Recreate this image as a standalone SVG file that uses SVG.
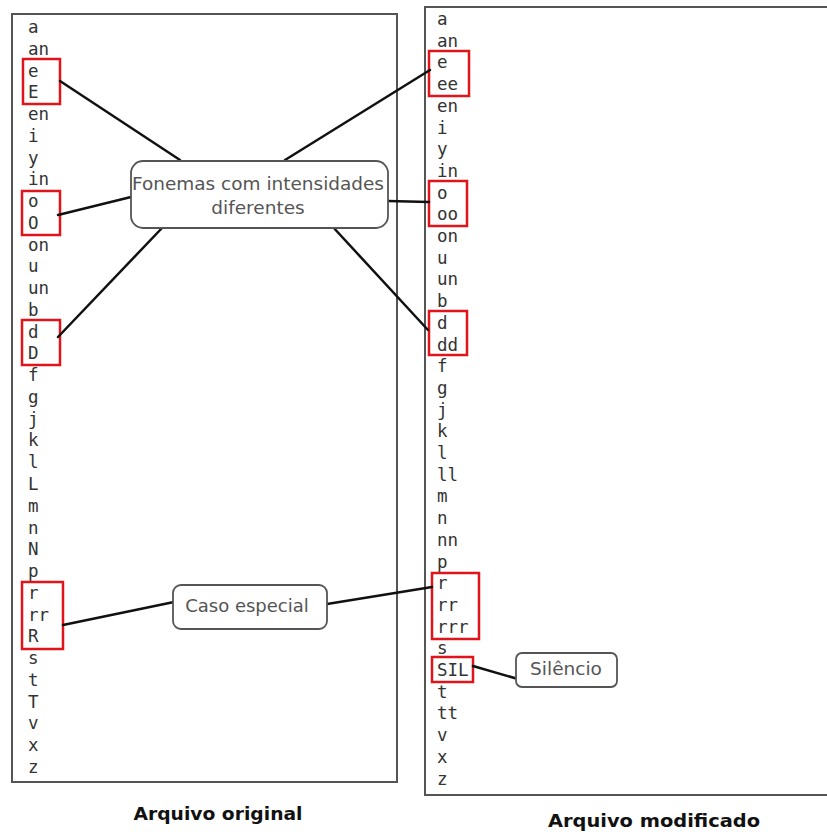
<svg xmlns="http://www.w3.org/2000/svg" width="827" height="832" viewBox="0 0 827 832">
<style>
.frame{fill:#fff;stroke:#555;stroke-width:2}
.mono{font-family:"DejaVu Sans Mono","Liberation Mono",monospace;font-size:17.5px;fill:#333}
.hl{fill:none;stroke:#e0141a;stroke-width:2.5}
.node{fill:#fff;stroke:#555;stroke-width:1.8}
.lbl{font-family:"DejaVu Sans","Liberation Sans",sans-serif;fill:#555;text-anchor:middle}
.cap{font-family:"DejaVu Sans","Liberation Sans",sans-serif;font-weight:bold;font-size:18.5px;fill:#111;text-anchor:middle}
.con line{stroke:#111;stroke-width:2.5;stroke-linecap:round}
</style>
<rect width="827" height="832" fill="#fff"/>
<g id="arquivo-original">
<rect class="frame" x="12" y="14" width="385" height="768"/>
<text class="mono" x="28" y="33">a</text>
<text class="mono" x="28" y="54.8">an</text>
<text class="mono" x="28" y="76.5">e</text>
<text class="mono" x="28" y="98.3">E</text>
<text class="mono" x="28" y="120">en</text>
<text class="mono" x="28" y="141.8">i</text>
<text class="mono" x="28" y="163.6">y</text>
<text class="mono" x="28" y="185.3">in</text>
<text class="mono" x="28" y="207.1">o</text>
<text class="mono" x="28" y="228.8">O</text>
<text class="mono" x="28" y="250.6">on</text>
<text class="mono" x="28" y="272.4">u</text>
<text class="mono" x="28" y="294.1">un</text>
<text class="mono" x="28" y="315.9">b</text>
<text class="mono" x="28" y="337.6">d</text>
<text class="mono" x="28" y="359.4">D</text>
<text class="mono" x="28" y="381.2">f</text>
<text class="mono" x="28" y="402.9">g</text>
<text class="mono" x="28" y="424.7">j</text>
<text class="mono" x="28" y="446.4">k</text>
<text class="mono" x="28" y="468.2">l</text>
<text class="mono" x="28" y="490">L</text>
<text class="mono" x="28" y="511.7">m</text>
<text class="mono" x="28" y="533.5">n</text>
<text class="mono" x="28" y="555.2">N</text>
<text class="mono" x="28" y="577">p</text>
<text class="mono" x="28" y="598.8">r</text>
<text class="mono" x="28" y="620.5">rr</text>
<text class="mono" x="28" y="642.3">R</text>
<text class="mono" x="28" y="664">s</text>
<text class="mono" x="28" y="685.8">t</text>
<text class="mono" x="28" y="707.6">T</text>
<text class="mono" x="28" y="729.3">v</text>
<text class="mono" x="28" y="751.1">x</text>
<text class="mono" x="28" y="772.8">z</text>
<rect class="hl" x="23" y="59" width="37" height="45"/>
<rect class="hl" x="22" y="191" width="38" height="44"/>
<rect class="hl" x="22" y="320" width="38" height="45"/>
<rect class="hl" x="22" y="582" width="41" height="67"/>
</g>
<g id="arquivo-modificado">
<rect class="frame" x="425" y="7" width="410" height="788"/>
<text class="mono" x="437" y="25">a</text>
<text class="mono" x="437" y="46.7">an</text>
<text class="mono" x="437" y="68.4">e</text>
<text class="mono" x="437" y="90.1">ee</text>
<text class="mono" x="437" y="111.8">en</text>
<text class="mono" x="437" y="133.5">i</text>
<text class="mono" x="437" y="155.2">y</text>
<text class="mono" x="437" y="176.9">in</text>
<text class="mono" x="437" y="198.6">o</text>
<text class="mono" x="437" y="220.3">oo</text>
<text class="mono" x="437" y="242">on</text>
<text class="mono" x="437" y="263.7">u</text>
<text class="mono" x="437" y="285.4">un</text>
<text class="mono" x="437" y="307.1">b</text>
<text class="mono" x="437" y="328.8">d</text>
<text class="mono" x="437" y="350.5">dd</text>
<text class="mono" x="437" y="372.2">f</text>
<text class="mono" x="437" y="393.9">g</text>
<text class="mono" x="437" y="415.6">j</text>
<text class="mono" x="437" y="437.3">k</text>
<text class="mono" x="437" y="459">l</text>
<text class="mono" x="437" y="480.7">ll</text>
<text class="mono" x="437" y="502.4">m</text>
<text class="mono" x="437" y="524.1">n</text>
<text class="mono" x="437" y="545.8">nn</text>
<text class="mono" x="437" y="567.5">p</text>
<text class="mono" x="437" y="589.2">r</text>
<text class="mono" x="437" y="610.9">rr</text>
<text class="mono" x="437" y="632.6">rrr</text>
<text class="mono" x="437" y="654.3">s</text>
<text class="mono" x="437" y="676">SIL</text>
<text class="mono" x="437" y="697.7">t</text>
<text class="mono" x="437" y="719.4">tt</text>
<text class="mono" x="437" y="741.1">v</text>
<text class="mono" x="437" y="762.8">x</text>
<text class="mono" x="437" y="784.5">z</text>
<rect class="hl" x="429" y="51" width="40" height="45"/>
<rect class="hl" x="429" y="181" width="38" height="45"/>
<rect class="hl" x="429" y="311" width="38" height="44"/>
<rect class="hl" x="432" y="573" width="47" height="66"/>
<rect class="hl" x="432" y="657" width="41" height="25"/>
</g>
<g class="con" id="connectors">
<line x1="60" y1="81" x2="180" y2="160"/>
<line x1="131" y1="197" x2="58" y2="215"/>
<line x1="162" y1="228" x2="58" y2="337"/>
<line x1="285" y1="160" x2="430" y2="70"/>
<line x1="388" y1="201" x2="429" y2="202"/>
<line x1="332" y1="226" x2="428" y2="330"/>
<line x1="174" y1="602" x2="63" y2="625"/>
<line x1="327" y1="604" x2="432" y2="587"/>
<line x1="473" y1="666" x2="518" y2="679"/>
</g>
<g id="fonemas">
<rect class="node" x="131" y="161" width="257" height="67" rx="12"/>
<text class="lbl" x="258" y="190" font-size="18.5" textLength="252" lengthAdjust="spacingAndGlyphs">Fonemas com intensidades</text>
<text class="lbl" x="258" y="214" font-size="18.5">diferentes</text>
</g>
<g id="caso-especial">
<rect class="node" x="173" y="585" width="154" height="44" rx="8"/>
<text class="lbl" x="247" y="612" font-size="18">Caso especial</text>
</g>
<g id="silencio">
<rect class="node" x="516" y="653" width="101" height="34" rx="6"/>
<text class="lbl" x="566" y="675" font-size="18.5">Silêncio</text>
</g>
<text class="cap" x="218" y="820" textLength="169" lengthAdjust="spacingAndGlyphs">Arquivo original</text>
<text class="cap" x="654" y="827" textLength="212" lengthAdjust="spacingAndGlyphs">Arquivo modificado</text>
</svg>
